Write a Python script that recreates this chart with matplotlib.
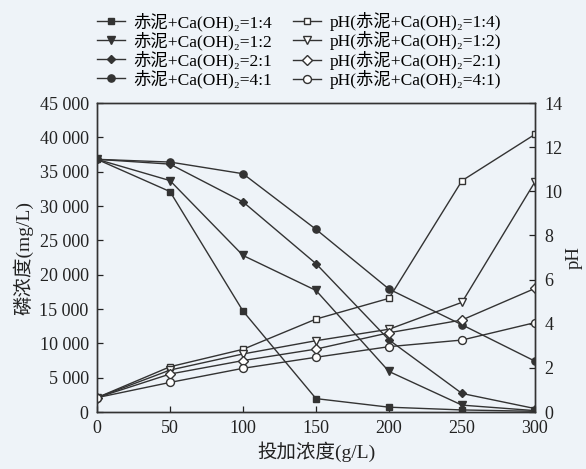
import matplotlib
matplotlib.use("Agg")
import matplotlib.pyplot as plt
from matplotlib.ticker import FuncFormatter

plt.rcParams['font.family'] = ['Liberation Serif', 'Noto Sans CJK SC', 'DejaVu Serif']

# 投加浓度 (g/L)
dose = [0, 50, 100, 150, 200, 250, 300]

# 磷浓度 (mg/L)
p_14 = [36800, 32100, 14700, 1950, 700, 300, 100]
p_12 = [36800, 33700, 22800, 17700, 5900, 1000, 200]
p_21 = [36800, 36100, 30600, 21600, 10500, 2700, 500]
p_41 = [36800, 36400, 34700, 26600, 17900, 12700, 7400]

# pH
ph_14 = [0.65, 2.05, 2.84, 4.21, 5.15, 10.48, 12.58]
ph_12 = [0.65, 1.90, 2.63, 3.23, 3.75, 4.97, 10.43]
ph_21 = [0.65, 1.72, 2.33, 2.85, 3.59, 4.17, 5.60]
ph_41 = [0.65, 1.34, 1.98, 2.48, 2.96, 3.26, 4.05]

ratios = ['1:4', '1:2', '2:1', '4:1']
conc_series = [p_14, p_12, p_21, p_41]
ph_series = [ph_14, ph_12, ph_21, ph_41]
markers = ['s', 'v', 'D', 'o']
msizes = [4.5, 5.5, 4.5, 5.2]

bg = '#eef3f8'
lc = '#333333'
tc = '#222222'

fig = plt.figure(figsize=(5.86, 4.69), dpi=100, facecolor=bg)
ax1 = fig.add_axes([97 / 586, 1 - 412 / 469, 438 / 586, 309 / 469])
ax1.set_facecolor(bg)
ax2 = ax1.twinx()

handles = []
for r, ys, m, ms in zip(ratios, conc_series, markers, msizes):
    h, = ax1.plot(dose, ys, color=lc, lw=1.0, marker=m, ms=ms,
                  mfc=lc, mec=lc, label='赤泥+Ca(OH)₂=' + r)
    handles.append(h)
for r, ys, m, ms in zip(ratios, ph_series, markers, msizes):
    h, = ax2.plot(dose, ys, color=lc, lw=1.0, marker=m, ms=ms + 0.5,
                  mfc='white', mec=lc, mew=1.0, label='pH(赤泥+Ca(OH)₂=' + r + ')')
    handles.append(h)

ax1.set_xlim(0, 300)
ax1.set_ylim(0, 45000)
ax2.set_ylim(0, 14)
ax1.set_xticks(dose)
ax1.set_yticks(range(0, 45001, 5000))
ax2.set_yticks(range(0, 15, 2))
ax1.yaxis.set_major_formatter(FuncFormatter(lambda v, p: f'{int(v):,}'.replace(',', ' ')))

for ax in (ax1, ax2):
    ax.tick_params(direction='in', length=4, width=0.9, labelsize=13, colors=tc)
    for s in ax.spines.values():
        s.set_color(lc)
        s.set_linewidth(1.0)
ax1.tick_params(axis='x', pad=6)
ax1.tick_params(axis='y', pad=6)
ax2.tick_params(axis='y', pad=7)

ax1.set_xlabel('投加浓度(g/L)', fontsize=14, color=tc, labelpad=3)
ax1.set_ylabel('磷浓度(mg/L)', fontsize=14, color=tc, labelpad=4)
ax2.set_ylabel('pH', fontsize=13.5, color=tc, labelpad=2)

fig.legend(handles=handles, ncol=2, loc='upper center',
           bbox_to_anchor=(0.51, 1.0), frameon=False, fontsize=12.5,
           handlelength=1.6, handletextpad=0.5, labelspacing=0.02,
           columnspacing=1.2, borderaxespad=0.3)

fig.savefig('out.png', dpi=100, facecolor=bg)
